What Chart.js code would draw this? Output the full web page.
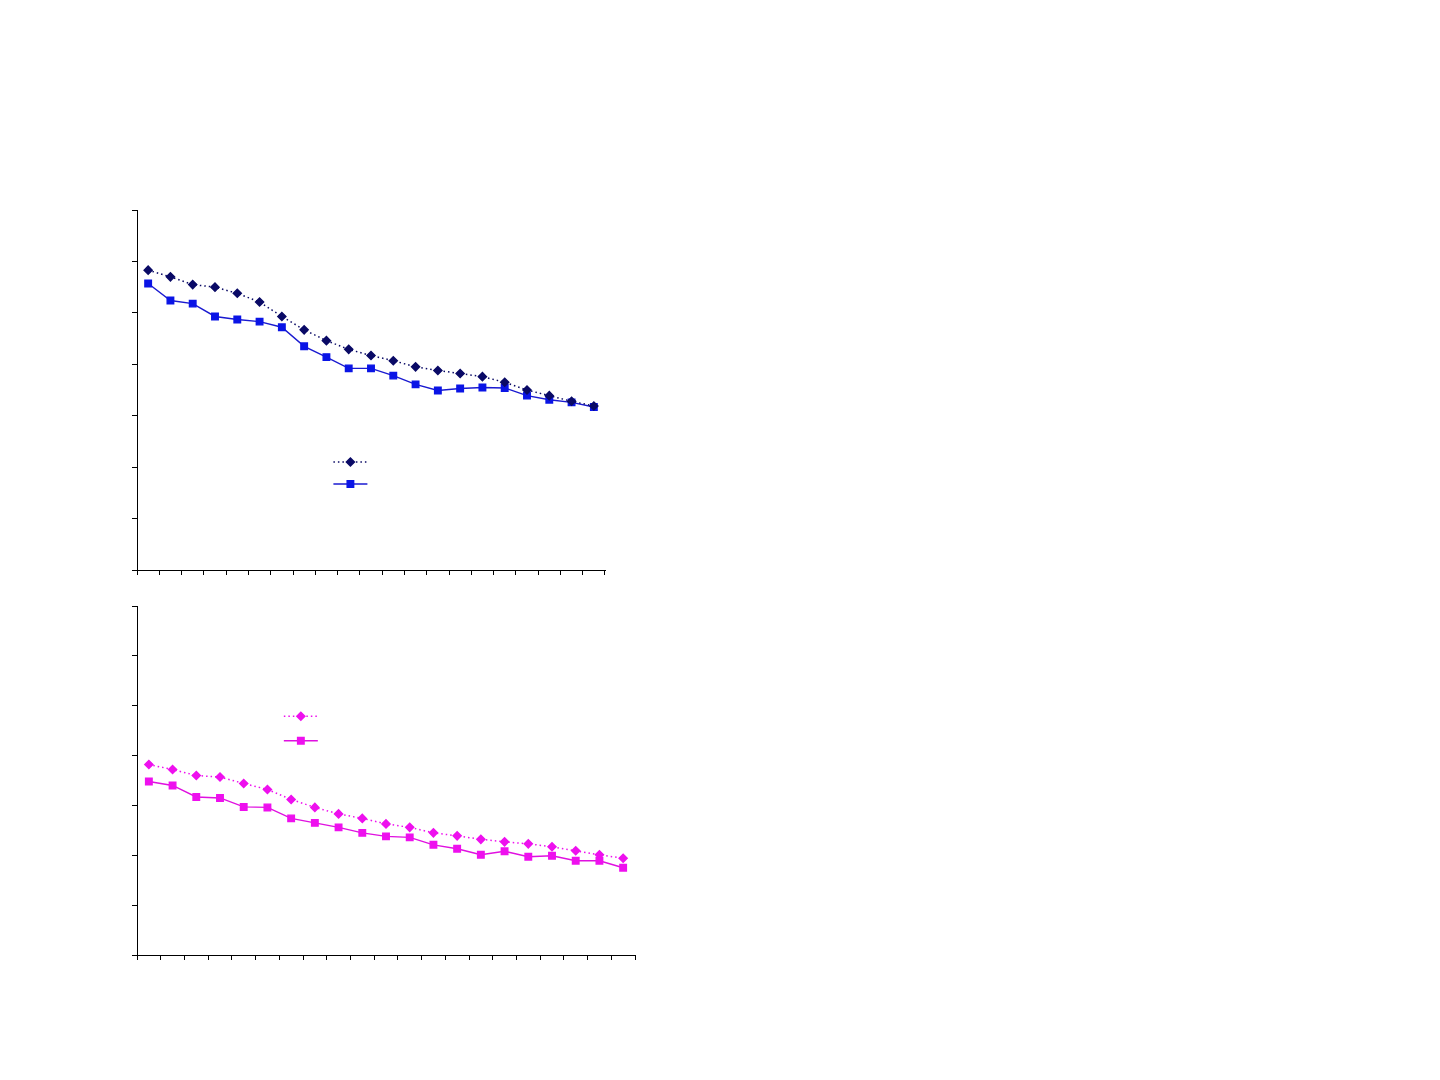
<!DOCTYPE html>
<html>
<head>
<meta charset="utf-8">
<title>Two series line charts</title>
<script src="https://cdn.jsdelivr.net/npm/chart.js@4.4.1/dist/chart.umd.min.js"></script>
<style>
    html, body { margin: 0; padding: 0; background: #ffffff; }
    body { width: 1440px; height: 1080px; position: relative; overflow: hidden; }
    .box { position: absolute; }
    #topBox { left: 100px; top: 195px; width: 540px; height: 400px; }
    #bottomBox { left: 100px; top: 590px; width: 560px; height: 400px; }
</style>
</head>
<body>
<div class="box" id="topBox"><canvas id="topChart"></canvas></div>
<div class="box" id="bottomBox"><canvas id="bottomChart"></canvas></div>

<script>
// Data (no labels are printed on the original)
const categories = ['1', '2', '3', '4', '5', '6', '7', '8', '9', '10', '11',
    '12', '13', '14', '15', '16', '17', '18', '19', '20', '21'];
const yTicks = [0, 1, 2, 3, 4, 5, 6, 7];

const topDiamond = [5.83, 5.70, 5.55, 5.50, 5.38, 5.21, 4.93, 4.67, 4.46, 4.29, 4.17,
    4.07, 3.95, 3.88, 3.82, 3.76, 3.65, 3.50, 3.39, 3.28, 3.19];
const topSquare = [5.57, 5.24, 5.18, 4.93, 4.87, 4.83, 4.72, 4.35, 4.14, 3.92, 3.92,
    3.78, 3.61, 3.49, 3.53, 3.55, 3.54, 3.39, 3.31, 3.26, 3.17];

const bottomDiamond = [3.82, 3.72, 3.60, 3.57, 3.44, 3.32, 3.12, 2.96, 2.83, 2.74, 2.63,
    2.56, 2.45, 2.39, 2.32, 2.27, 2.23, 2.17, 2.09, 2.01, 1.94];
const bottomSquare = [3.48, 3.40, 3.17, 3.15, 2.97, 2.96, 2.74, 2.65, 2.56, 2.45, 2.38,
    2.36, 2.21, 2.13, 2.01, 2.08, 1.97, 1.99, 1.89, 1.89, 1.75];

// Legend without text: line + marker samples drawn inside the plot area
const sampleLegend = {
    id: 'sampleLegend',
    afterDatasetsDraw(chart, args, opts) {
        const { ctx, chartArea } = chart;
        const cx = chartArea.left + opts.x * chartArea.width;
        chart.data.datasets.forEach((ds, i) => {
            const cy = chartArea.top + opts.y[i] * chartArea.height;
            ctx.save();
            ctx.strokeStyle = ds.borderColor;
            ctx.lineWidth = ds.borderWidth;
            ctx.setLineDash(ds.borderDash || []);
            ctx.beginPath();
            ctx.moveTo(cx - 17, cy);
            ctx.lineTo(cx + 17, cy);
            ctx.stroke();
            ctx.setLineDash([]);
            ctx.fillStyle = ds.pointBackgroundColor;
            ctx.strokeStyle = ds.pointBorderColor;
            Chart.helpers.drawPoint(ctx, {
                pointStyle: ds.pointStyle,
                radius: ds.pointRadius,
                rotation: 0,
                borderWidth: 1
            }, cx, cy);
            ctx.restore();
        });
    }
};

const makeDatasets = (diamond, square, dotColor, lineColor, markColor) => [
    {
        data: diamond,
        borderColor: dotColor,
        borderWidth: 1.5,
        borderDash: [1.5, 3],
        pointStyle: 'rectRot',
        pointRadius: 4,
        pointBackgroundColor: dotColor,
        pointBorderColor: dotColor,
        tension: 0
    },
    {
        data: square,
        borderColor: lineColor,
        borderWidth: 1.4,
        pointStyle: 'rect',
        pointRadius: 4.6,
        pointBackgroundColor: markColor,
        pointBorderColor: markColor,
        tension: 0
    }
];

const makeOptions = (padding, legendPos) => ({
    responsive: true,
    maintainAspectRatio: false,
    animation: false,
    layout: { padding: padding },
    plugins: {
        legend: { display: false },
        tooltip: { enabled: false },
        sampleLegend: legendPos
    },
    scales: {
        x: {
            type: 'category',
            offset: true,
            grid: { offset: true, drawOnChartArea: false, tickLength: 5, color: '#000000' },
            border: { display: true, color: '#000000', width: 1 },
            ticks: { display: false }
        },
        y: {
            min: 0,
            max: 7,
            afterBuildTicks: (axis) => { axis.ticks = yTicks.map(v => ({ value: v })); },
            grid: { drawOnChartArea: false, tickLength: 5, color: '#000000' },
            border: { display: true, color: '#000000', width: 1 },
            ticks: { display: false }
        }
    }
});

new Chart(document.getElementById('topChart').getContext('2d'), {
    type: 'line',
    data: {
        labels: categories,
        datasets: makeDatasets(topDiamond, topSquare, '#0a0a66', '#1a1ad0', '#0a14e6')
    },
    options: makeOptions({ left: 32, top: 15, right: 35, bottom: 20 }, { x: 0.456, y: [0.70, 0.761] }),
    plugins: [sampleLegend]
});

new Chart(document.getElementById('bottomChart').getContext('2d'), {
    type: 'line',
    data: {
        labels: categories,
        datasets: makeDatasets(bottomDiamond, bottomSquare, '#ee10ee', '#e010e0', '#ee10ee')
    },
    options: makeOptions({ left: 32, top: 16, right: 25, bottom: 30 }, { x: 0.329, y: [0.316, 0.386] }),
    plugins: [sampleLegend]
});
</script>
</body>
</html>
